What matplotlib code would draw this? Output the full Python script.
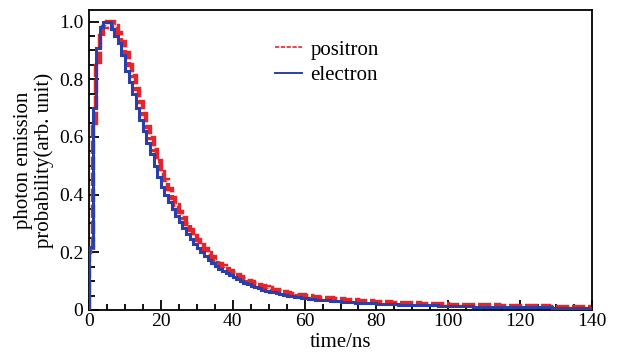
import numpy as np
import matplotlib
matplotlib.use("Agg")
import matplotlib.pyplot as plt
from matplotlib.lines import Line2D
from matplotlib.ticker import MultipleLocator, FuncFormatter

plt.rcParams['font.family'] = ['Liberation Serif', 'DejaVu Serif']

# histogram bin edges in ns (1 ns bins, 0..140)
BIN_WIDTH = 1.0
T_MAX = 140

# electron (blue), value per 1 ns bin
electron = [
    0.22, 0.70, 0.91, 0.98, 1.00, 1.00, 0.975, 0.95, 0.925, 0.885,
    0.83, 0.79, 0.75, 0.70, 0.66, 0.62, 0.58, 0.54, 0.50, 0.46,
    0.425, 0.40, 0.375, 0.35, 0.325, 0.305, 0.285, 0.265, 0.245, 0.23,
    0.215, 0.20, 0.187, 0.175, 0.163, 0.153, 0.143, 0.135, 0.127, 0.12,
    0.113, 0.106, 0.10, 0.094, 0.089, 0.084, 0.079, 0.075, 0.071, 0.067,
    0.064, 0.061, 0.058, 0.055, 0.052, 0.050, 0.048, 0.046, 0.044, 0.042,
    0.040, 0.039, 0.037, 0.036, 0.035, 0.034, 0.033, 0.032, 0.031, 0.030,
    0.029, 0.028, 0.027, 0.027, 0.026, 0.025, 0.024, 0.024, 0.023, 0.023,
    0.022, 0.022, 0.021, 0.021, 0.020, 0.020, 0.019, 0.019, 0.019, 0.018,
    0.018, 0.017, 0.017, 0.017, 0.016, 0.016, 0.016, 0.015, 0.015, 0.015,
    0.014, 0.014, 0.014, 0.013, 0.013, 0.013, 0.013, 0.012, 0.012, 0.012,
    0.012, 0.012, 0.011, 0.011, 0.011, 0.011, 0.011, 0.010, 0.010, 0.010,
    0.010, 0.010, 0.010, 0.009, 0.009, 0.009, 0.009, 0.009, 0.009, 0.008,
    0.008, 0.008, 0.008, 0.008, 0.008, 0.008, 0.008, 0.008, 0.008, 0.008,
]

# positron (red)
positron = [
    0.20, 0.65, 0.86, 0.95, 0.98, 1.00, 1.00, 0.985, 0.96, 0.93,
    0.89, 0.85, 0.81, 0.765, 0.72, 0.68, 0.635, 0.595, 0.555, 0.515,
    0.48, 0.45, 0.42, 0.39, 0.365, 0.34, 0.318, 0.297, 0.277, 0.258,
    0.241, 0.225, 0.21, 0.196, 0.183, 0.171, 0.16, 0.151, 0.142, 0.134,
    0.127, 0.12, 0.113, 0.107, 0.101, 0.096, 0.091, 0.087, 0.083, 0.079,
    0.075, 0.071, 0.068, 0.065, 0.062, 0.059, 0.057, 0.055, 0.053, 0.051,
    0.049, 0.047, 0.046, 0.044, 0.043, 0.042, 0.041, 0.040, 0.039, 0.038,
    0.037, 0.036, 0.035, 0.034, 0.033, 0.032, 0.031, 0.031, 0.030, 0.029,
    0.028, 0.028, 0.027, 0.027, 0.026, 0.026, 0.025, 0.025, 0.024, 0.024,
    0.023, 0.023, 0.022, 0.022, 0.022, 0.021, 0.021, 0.020, 0.020, 0.020,
    0.019, 0.019, 0.019, 0.018, 0.018, 0.018, 0.017, 0.017, 0.017, 0.017,
    0.016, 0.016, 0.016, 0.016, 0.015, 0.015, 0.015, 0.015, 0.014, 0.014,
    0.014, 0.014, 0.014, 0.013, 0.013, 0.013, 0.013, 0.013, 0.012, 0.012,
    0.012, 0.012, 0.012, 0.012, 0.011, 0.011, 0.011, 0.011, 0.011, 0.011,
]

RED = '#e3262c'
BLUE = '#2b3fa8'

edges = np.arange(0, T_MAX + BIN_WIDTH, BIN_WIDTH)

fig = plt.figure(figsize=(6.23, 3.54), dpi=100)
ax = fig.add_axes([89 / 623, 44 / 354, 503 / 623, 300 / 354])

ax.stairs(positron, edges, color=RED, lw=3.2, linestyle=(0, (3, 0.6)), zorder=2)
ax.stairs(electron, edges, color=BLUE, lw=2.2, zorder=3)

ax.set_xlim(0, 140)
ax.set_ylim(0, 1.04)

ax.xaxis.set_major_locator(MultipleLocator(20))
ax.xaxis.set_minor_locator(MultipleLocator(5))
ax.yaxis.set_major_locator(MultipleLocator(0.2))
ax.yaxis.set_minor_locator(MultipleLocator(0.05))
ax.yaxis.set_major_formatter(FuncFormatter(lambda v, p: '0' if abs(v) < 1e-9 else f'{v:.1f}'))

ax.tick_params(which='both', direction='in', top=False, right=False,
               labelsize=14, width=1.3)
ax.tick_params(axis='x', which='major', pad=2)
ax.tick_params(axis='y', which='major', pad=4)
ax.tick_params(which='major', length=7)
ax.tick_params(which='minor', length=4)

for s in ax.spines.values():
    s.set_linewidth(1.3)

ax.set_xlabel('time/ns', fontsize=15, labelpad=2)
ax.set_ylabel('photon emission\nprobability(arb. unit)', fontsize=15,
              labelpad=4, linespacing=1.05)

handles = [
    Line2D([], [], color=RED, lw=1.2, linestyle=(0, (2.5, 1))),
    Line2D([], [], color=BLUE, lw=1.4),
]
ax.legend(handles, ['positron', 'electron'], loc='upper left',
          bbox_to_anchor=(0.37, 0.90), frameon=False, fontsize=15,
          handlelength=1.3, handletextpad=0.4, labelspacing=0.3,
          borderaxespad=0, borderpad=0)

fig.savefig('out.png', dpi=100)
